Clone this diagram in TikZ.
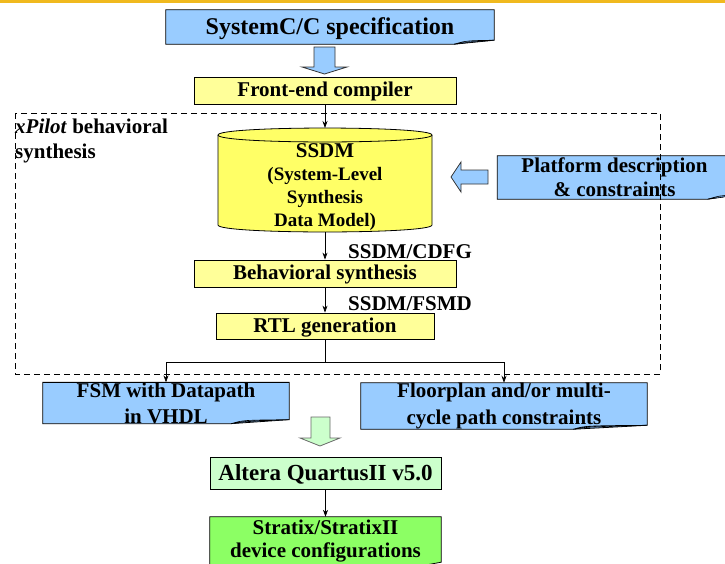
\documentclass[tikz,border=0pt]{standalone}
\usepackage{fontspec}
\setmainfont{Liberation Serif}
\usetikzlibrary{backgrounds,calc,arrows.meta}
\definecolor{docblue}{RGB}{153,204,255}
\definecolor{flapblue}{RGB}{110,160,215}
\definecolor{lyellow}{RGB}{255,255,153}
\definecolor{cylyellow}{RGB}{255,255,102}
\definecolor{lgreen}{RGB}{204,255,204}
\definecolor{sgreen}{RGB}{140,255,100}
\definecolor{gold}{RGB}{240,185,30}
\tikzset{
  txt/.style={font=\bfseries\fontsize{21}{26}\selectfont, inner sep=0pt, align=center, text=black},
  one/.style={text height=12pt, text depth=0pt},
  box/.style={txt, one, draw=black, line width=0.8pt, minimum width=#1},
  plain/.style={txt, minimum width=#1},
  conn/.style={line width=0.7pt, -{Stealth[length=7pt,width=5pt]}},
  line/.style={line width=0.7pt},
  blockarrow/.style={line width=0.8pt, draw=black!80},
}
\newcommand\docbg[3]{% node, fill, fold width
  \begin{scope}[on background layer]
  \filldraw[fill=#2, draw=black, line width=0.8pt] (#1.north west) -- (#1.north east) -- ([yshift=4pt]#1.south east) -- ([xshift=-#3]#1.south east) -- (#1.south west) -- cycle;
  \filldraw[fill=flapblue, draw=black, line width=0.6pt] ([xshift=-#3]#1.south east) .. controls ([xshift=-#3+12pt,yshift=3.5pt]#1.south east) .. ([yshift=4pt]#1.south east) -- ([xshift=-#3+15pt,yshift=2pt]#1.south east) -- cycle;
  \end{scope}}
\begin{document}
\begin{tikzpicture}[x=1pt,y=-1pt]
\useasboundingbox (0,0) rectangle (725,563);
\clip (0,0) rectangle (725,563);
\fill[gold] (0,0) rectangle (725,3);

% dashed region
\draw[line width=1pt, dash pattern=on 6pt off 4pt] (15,113) rectangle (660,374);
\node[txt, anchor=west, align=left, font=\bfseries\fontsize{21}{25}\selectfont] (xpilot) at (15,140.5) {\textit{x}\textit{Pilot} behavioral\\synthesis};

% spec
\node[plain=328pt, one, text height=14pt, minimum height=34pt, font=\bfseries\fontsize{24}{28}\selectfont] (spec) at (330,27) {SystemC/C specification};
\docbg{spec}{docblue}{40pt}

% blue block arrow down
\filldraw[fill=docblue, blockarrow] (314,47) -- (335,47) -- (335,67) -- (347,67) -- (324.5,74) -- (302,67) -- (314,67) -- cycle;

% front end
\node[box=262pt, minimum height=27pt, fill=lyellow] (fe) at (325,90.5) {Front-end compiler};

% cylinder
\coordinate (ssdmtop) at (325,128);
\coordinate (ssdmbot) at (325,232);
\filldraw[fill=cylyellow, draw=black, line width=0.8pt] (218,135) -- (218,225) .. controls (218,234.3) and (432,234.3) .. (432,225) -- (432,135) .. controls (432,125.7) and (218,125.7) .. (218,135) -- cycle;
\draw[line width=0.8pt] (218,135) .. controls (218,144.3) and (432,144.3) .. (432,135);
\node[txt, font=\bfseries\fontsize{19}{23}\selectfont] (ssdm) at (325,187) {{\fontsize{21}{23}\selectfont SSDM}\\(System-Level\\Synthesis\\Data Model)};

% platform
\node[plain=234pt, minimum height=43pt, font=\bfseries\fontsize{21}{24}\selectfont] (plat) at (614.5,177.5) {Platform description\\\& constraints};
\docbg{plat}{docblue}{24pt}
\filldraw[fill=docblue, blockarrow] (488,170) -- (461,170) -- (461,162) -- (451,177) -- (461,192) -- (461,184) -- (488,184) -- cycle;

% behavioral, rtl
\node[box=262pt, minimum height=27pt, fill=lyellow] (beh) at (325,273.5) {Behavioral synthesis};
\node[box=218pt, minimum height=26pt, fill=lyellow] (rtl) at (325,326) {RTL generation};
\node[txt, anchor=west] (cdfg) at (348,252) {SSDM/CDFG};
\node[txt, anchor=west] (fsmd) at (348,304) {SSDM/FSMD};

% outputs
\node[plain=246pt, minimum height=40pt] (fsm) at (166,403) {FSM with Datapath\\in VHDL};
\docbg{fsm}{docblue}{58pt}
\node[plain=286pt, minimum height=46pt, font=\bfseries\fontsize{21}{27}\selectfont] (floor) at (504,406) {Floorplan and/or multi-\\cycle path constraints};
\docbg{floor}{docblue}{74pt}

% green block arrow
\filldraw[fill=lgreen, draw=black!60, line width=0.8pt] (311,417) -- (330,417) -- (330,438) -- (340,438) -- (320,446) -- (300,438) -- (311,438) -- cycle;

\node[box=231pt, minimum height=32pt, fill=lgreen, text height=14pt, font=\bfseries\fontsize{23}{27}\selectfont] (altera) at (325.5,473) {Altera QuartusII v5.0};
\node[plain=231pt, minimum height=49pt, font=\bfseries\fontsize{21}{23}\selectfont] (stratix) at (325.5,541.5) {Stratix/StratixII\\device configurations};
\begin{scope}[on background layer]
\filldraw[fill=sgreen, draw=black, line width=0.8pt] (stratix.north west) -- (stratix.north east) -- ([yshift=4pt]stratix.south east) -- ([xshift=-22pt]stratix.south east) -- (stratix.south west) -- cycle;
\end{scope}

% connectors
\draw[conn] (fe.south) -- (ssdmtop);
\draw[conn] (ssdmbot) -- (beh.north);
\draw[conn] (beh.south) -- (rtl.north);
\coordinate (split) at (325,362);
\draw[line] (rtl.south) -- (split);
\draw[conn] (split) -| (fsm.north);
\draw[conn] (split) -| (floor.north);
\draw[conn] (altera.south) -- (stratix.north);
\end{tikzpicture}
\end{document}
